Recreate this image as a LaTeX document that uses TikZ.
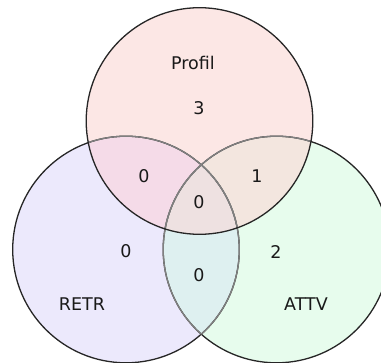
\documentclass[tikz,border=0pt]{standalone}
\usepackage{fontspec}
\setmainfont{DejaVu Sans}
\definecolor{cT}{RGB}{252,231,229}
\definecolor{cL}{RGB}{236,233,252}
\definecolor{cR}{RGB}{231,252,237}
\definecolor{cTL}{RGB}{245,219,232}
\definecolor{cTR}{RGB}{243,230,223}
\definecolor{cLR}{RGB}{222,240,240}
\definecolor{cC}{RGB}{238,225,225}
\begin{document}
\begin{tikzpicture}[x=1pt,y=-1pt,
  lbl/.style={inner sep=0pt, font=\fontsize{17.5}{20}\selectfont, text=black!90},
  ring/.style={line width=1.3pt, draw=black!85},
  innerring/.style={line width=1.3pt, draw=black!50}]
\useasboundingbox (0,0) rectangle (381,363);
\coordinate (T) at (199.5,121);
\coordinate (L) at (126,249.5);
\coordinate (R) at (276.5,249.5);
\def\rad{113.3}
% region fills
\fill[cL] (L) circle (\rad);
\fill[cR] (R) circle (\rad);
\fill[cT] (T) circle (\rad);
\begin{scope}\clip (L) circle (\rad); \fill[cLR] (R) circle (\rad);\end{scope}
\begin{scope}\clip (T) circle (\rad); \fill[cTL] (L) circle (\rad);\end{scope}
\begin{scope}\clip (T) circle (\rad); \fill[cTR] (R) circle (\rad);\end{scope}
\begin{scope}\clip (T) circle (\rad); \clip (L) circle (\rad); \fill[cC] (R) circle (\rad);\end{scope}
% outlines
\draw[ring] (L) circle (\rad);
\draw[ring] (R) circle (\rad);
\begin{scope}\clip (T) circle (\rad); \draw[innerring] (L) circle (\rad); \draw[innerring] (R) circle (\rad);\end{scope}
\begin{scope}\clip (L) circle (\rad); \draw[innerring] (R) circle (\rad);\end{scope}
\begin{scope}\clip (R) circle (\rad); \draw[innerring] (L) circle (\rad);\end{scope}
\draw[ring] (T) circle (\rad);
% labels
\node[lbl] (nP) at (193,63) {Profil};
\node[lbl] (n3) at (199,108) {3};
\node[lbl] (nTL) at (144,176) {0};
\node[lbl] (nTR) at (257,176) {1};
\node[lbl] (nC) at (199,202) {0};
\node[lbl] (nL) at (126,251) {0};
\node[lbl] (nR) at (276,252) {2};
\node[lbl] (nB) at (199,275) {0};
\node[lbl] (nRETR) at (82,304) {RETR};
\node[lbl] (nATTV) at (306,304) {ATTV};
\end{tikzpicture}
\end{document}
